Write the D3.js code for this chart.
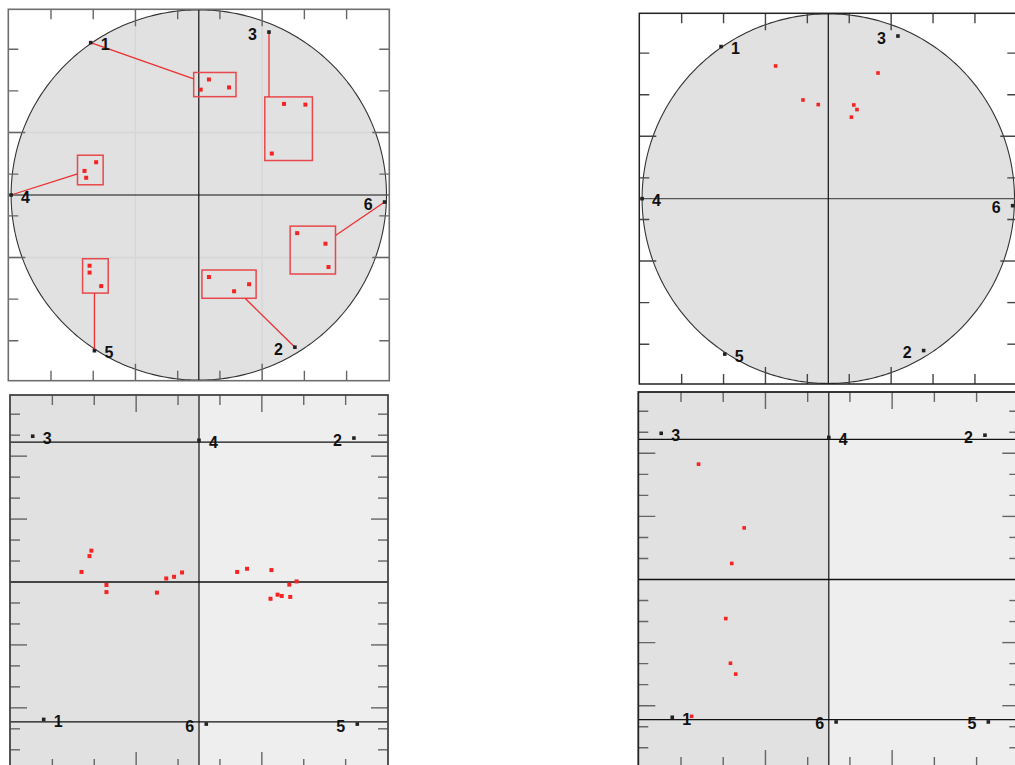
<!DOCTYPE html>
<html>
<head>
<meta charset="utf-8">
<script src="https://cdn.jsdelivr.net/npm/d3@7"></script>
<style>
  html, body { margin: 0; padding: 0; background: #ffffff; }
  svg { display: block; }
  .lbl { font-family: "Liberation Sans", Arial, sans-serif; font-weight: bold; font-size: 16px; fill: #111; }
</style>
</head>
<body>
<svg id="chart" width="1015" height="765"></svg>
<script>
// Variable labels (shared by all four panels)
const varLabels = ["1", "2", "3", "4", "5", "6"];

// Correlation-circle coordinates of the variables (top panels)
const circleVarX = [-0.576, 0.512, 0.374, -1.0, -0.556, 0.99];
const circleVarY = [0.823, -0.822, 0.880, 0.0, -0.841, -0.038];

// Projected coordinates of the variables (bottom panels)
const planeVarX = [-0.834, 0.832, -0.893, 0.0, 0.85, 0.039];
const planeVarY = [-0.737, 0.772, 0.782, 0.76, -0.762, -0.762];

// Items grouped around each variable (top-left panel)
const groupItemX = [0.054, 0.010, 0.161, 0.454, 0.568, 0.389, -0.547, -0.609, -0.600,
                    0.524, 0.675, 0.691, -0.582, -0.582, -0.520, 0.054, 0.188, 0.268];
const groupItemY = [0.624, 0.569, 0.581, 0.492, 0.488, 0.224, 0.177, 0.130, 0.093,
                    -0.206, -0.263, -0.389, -0.382, -0.419, -0.492, -0.443, -0.520, -0.482];
const groupItemVar = ["1", "1", "1", "3", "3", "3", "4", "4", "4",
                      "6", "6", "6", "5", "5", "5", "2", "2", "2"];

// Observations on the correlation circle (top-right panel)
const obsCircleX = [-0.283, 0.267, -0.136, -0.054, 0.137, 0.154, 0.124];
const obsCircleY = [0.718, 0.680, 0.534, 0.509, 0.507, 0.482, 0.441];

// Items on the projection plane (bottom-left panel)
const planeItemX = [-0.578, -0.588, -0.631, -0.497, -0.497, -0.226, -0.176, -0.134, -0.091,
                    0.205, 0.258, 0.389, 0.485, 0.524, 0.384, 0.422, 0.444, 0.490];
const planeItemY = [0.168, 0.139, 0.054, -0.016, -0.054, -0.057, 0.019, 0.028, 0.051,
                    0.054, 0.071, 0.064, -0.014, 0.003, -0.090, -0.068, -0.075, -0.080];

// Observations on the projection plane (bottom-right panel)
const obsPlaneX = [-0.694, -0.451, -0.517, -0.549, -0.524, -0.496, -0.731];
const obsPlaneY = [0.617, 0.276, 0.086, -0.209, -0.448, -0.506, -0.732];

// Tick values
const edgeTicks = [-0.7875, -0.5625, -0.3375, -0.1125, 0.1125, 0.3375, 0.5625, 0.7875];
const planeSideTicks = [-0.9, -0.7875, -0.675, -0.5625, -0.45, -0.3375, -0.225, -0.1125,
                        0.1125, 0.225, 0.3375, 0.45, 0.5625, 0.675, 0.7875, 0.9];
const gridValues = [-0.3375, 0.3375];
const planeGuideY = [-0.75, 0.75];

const XD = 1.015, YD = 1.003;
const svg = d3.select("#chart");

function isLong(v) { return Math.abs(Math.abs(v) - 0.3375) < 1e-6 || Math.abs(Math.abs(v) - 0.675) < 1e-6; }

function makePanel(box) {
  const g = svg.append("g");
  const x = d3.scaleLinear().domain([-XD, XD]).range([box.x, box.x + box.w]);
  const y = d3.scaleLinear().domain([-YD, YD]).range([box.y + box.h, box.y]);
  const clipId = "clip" + box.id;
  svg.append("clipPath").attr("id", clipId)
    .append("rect").attr("x", box.x).attr("y", box.y).attr("width", box.w).attr("height", box.h);
  const inner = g.append("g").attr("clip-path", `url(#${clipId})`);
  return { g, inner, x, y, box };
}

function drawCircle(p) {
  const pts = d3.range(0, 361, 1).map(a => [p.x(Math.cos(a * Math.PI / 180)), p.y(Math.sin(a * Math.PI / 180))]);
  p.inner.append("path").attr("d", d3.line()(pts) + "Z")
    .attr("fill", "#e1e1e1").attr("stroke", "none");
  return pts;
}

function drawCircleStroke(p, pts) {
  p.inner.append("path").attr("d", d3.line()(pts) + "Z")
    .attr("fill", "none").attr("stroke", "#333").attr("stroke-width", 1.1);
}

function drawTicks(p, sideTicks, color) {
  const b = p.box;
  const t = p.inner.append("g").attr("stroke", color).attr("stroke-width", 1.4);
  edgeTicks.forEach(v => {
    const L = isLong(v) ? 17 : 10;
    t.append("line").attr("x1", p.x(v)).attr("x2", p.x(v)).attr("y1", b.y).attr("y2", b.y + L);
    t.append("line").attr("x1", p.x(v)).attr("x2", p.x(v)).attr("y1", b.y + b.h).attr("y2", b.y + b.h - L);
  });
  sideTicks.forEach(v => {
    const L = isLong(v) ? 17 : 10;
    t.append("line").attr("y1", p.y(v)).attr("y2", p.y(v)).attr("x1", b.x).attr("x2", b.x + L);
    t.append("line").attr("y1", p.y(v)).attr("y2", p.y(v)).attr("x1", b.x + b.w).attr("x2", b.x + b.w - L);
  });
}

function drawAxes(p, hColor, hWidth) {
  const b = p.box;
  p.inner.append("line").attr("x1", b.x).attr("x2", b.x + b.w).attr("y1", p.y(0)).attr("y2", p.y(0))
    .attr("stroke", hColor).attr("stroke-width", hWidth);
  p.inner.append("line").attr("x1", p.x(0)).attr("x2", p.x(0)).attr("y1", b.y).attr("y2", b.y + b.h)
    .attr("stroke", "#111").attr("stroke-width", 1.2);
}

function drawFrame(p, color, width) {
  const b = p.box;
  p.g.append("rect").attr("x", b.x).attr("y", b.y).attr("width", b.w).attr("height", b.h)
    .attr("fill", "none").attr("stroke", color).attr("stroke-width", width);
}

function drawVars(p, vx, vy) {
  varLabels.forEach((lab, i) => {
    const px = p.x(vx[i]), py = p.y(vy[i]);
    p.inner.append("rect").attr("x", px - 1.8).attr("y", py - 1.8).attr("width", 3.6).attr("height", 3.6)
      .attr("fill", "#222");
    const right = vx[i] <= 0.01;
    p.inner.append("text").attr("class", "lbl")
      .attr("x", right ? px + 10 : px - 12).attr("y", py + 7.5)
      .attr("text-anchor", right ? "start" : "end").text(lab);
  });
}

function drawDots(p, xs, ys, size) {
  p.inner.append("g").selectAll("rect").data(xs.map((v, i) => [v, ys[i]])).join("rect")
    .attr("x", d => p.x(d[0]) - size / 2).attr("y", d => p.y(d[1]) - size / 2)
    .attr("width", size).attr("height", size).attr("fill", "#f52323");
}

// ---------- Top-left: correlation circle with item groups ----------
const tl = makePanel({ id: "tl", x: 8.3, y: 9.3, w: 381, h: 371.4 });
const tlCircle = drawCircle(tl);
gridValues.forEach(v => {
  tl.inner.append("line").attr("x1", tl.x(v)).attr("x2", tl.x(v)).attr("y1", tl.box.y).attr("y2", tl.box.y + tl.box.h)
    .attr("stroke", "#d6d6d6").attr("stroke-width", 1.3);
  tl.inner.append("line").attr("y1", tl.y(v)).attr("y2", tl.y(v)).attr("x1", tl.box.x).attr("x2", tl.box.x + tl.box.w)
    .attr("stroke", "#d6d6d6").attr("stroke-width", 1.3);
});
drawCircleStroke(tl, tlCircle);
drawAxes(tl, "#555", 1.4);
drawTicks(tl, edgeTicks, "#666");

// group boxes and connectors
const pad = 7;
varLabels.forEach((lab, vi) => {
  const idx = groupItemVar.map((g, i) => g === lab ? i : -1).filter(i => i >= 0);
  if (!idx.length) return;
  const gx = idx.map(i => tl.x(groupItemX[i])), gy = idx.map(i => tl.y(groupItemY[i]));
  const x0 = d3.min(gx) - pad, x1 = d3.max(gx) + pad, y0 = d3.min(gy) - pad, y1 = d3.max(gy) + pad;
  tl.inner.append("rect").attr("x", x0).attr("y", y0).attr("width", x1 - x0).attr("height", y1 - y0)
    .attr("fill", "none").attr("stroke", "#e8484b").attr("stroke-width", 1.5);
  const px = tl.x(circleVarX[vi]), py = tl.y(circleVarY[vi]);
  let ex, ey;
  if (px >= x0 && px <= x1) { ex = px; ey = py < y0 ? y0 : y1; }
  else if (py >= y0 && py <= y1) { ey = py; ex = px < x0 ? x0 : x1; }
  else {
    const cx = d3.mean(gx), cy = d3.mean(gy);
    const dx = cx - px, dy = cy - py;
    const tx = ((dx > 0 ? x0 : x1) - px) / dx, ty = ((dy > 0 ? y0 : y1) - py) / dy;
    const t = Math.max(tx, ty);
    ex = px + t * dx; ey = py + t * dy;
  }
  tl.inner.append("line").attr("x1", px).attr("y1", py).attr("x2", ex).attr("y2", ey)
    .attr("stroke", "#ea3030").attr("stroke-width", 1.3);
});
drawDots(tl, groupItemX, groupItemY, 4);
drawVars(tl, circleVarX, circleVarY);
drawFrame(tl, "#6e6e6e", 1.6);

// ---------- Top-right: correlation circle with observations ----------
const tr = makePanel({ id: "tr", x: 639.3, y: 13.3, w: 378, h: 370.7 });
const trCircle = drawCircle(tr);
drawCircleStroke(tr, trCircle);
drawAxes(tr, "#555", 1.4);
drawTicks(tr, edgeTicks, "#444");
drawDots(tr, obsCircleX, obsCircleY, 3.6);
drawVars(tr, circleVarX, circleVarY);
drawFrame(tr, "#222", 1.5);

// ---------- Bottom panels: projection plane ----------
function drawPlane(p) {
  const b = p.box;
  p.inner.append("rect").attr("x", b.x).attr("y", b.y).attr("width", p.x(0) - b.x).attr("height", b.h).attr("fill", "#e1e1e1");
  p.inner.append("rect").attr("x", p.x(0)).attr("y", b.y).attr("width", b.x + b.w - p.x(0)).attr("height", b.h).attr("fill", "#eeeeee");
  drawTicks(p, planeSideTicks, "#666");
  planeGuideY.forEach(v => {
    p.inner.append("line").attr("x1", b.x).attr("x2", b.x + b.w).attr("y1", p.y(v)).attr("y2", p.y(v))
      .attr("stroke", "#111").attr("stroke-width", 1.3);
  });
  drawAxes(p, "#111", 1.3);
}

const bl = makePanel({ id: "bl", x: 10, y: 395, w: 378, h: 374 });
drawPlane(bl);
drawDots(bl, planeItemX, planeItemY, 4);
drawVars(bl, planeVarX, planeVarY);
drawFrame(bl, "#444", 1.8);

const br = makePanel({ id: "br", x: 638.3, y: 392, w: 381, h: 375 });
drawPlane(br);
drawDots(br, obsPlaneX, obsPlaneY, 3.6);
drawVars(br, planeVarX, planeVarY);
drawFrame(br, "#222", 1.8);
</script>
</body>
</html>
